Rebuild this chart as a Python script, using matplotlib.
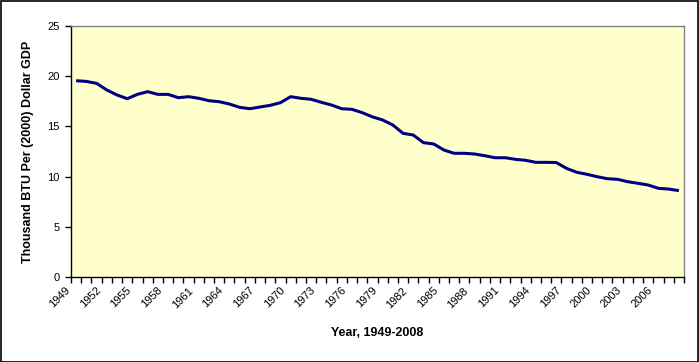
import numpy as np
import matplotlib.pyplot as plt
from matplotlib.patches import Rectangle
from matplotlib.ticker import FixedLocator
import matplotlib.transforms as mtransforms

plt.rcParams["font.family"] = ["Liberation Sans", "DejaVu Sans"]

years = list(range(1949, 2009))
btu_per_gdp = [
    19.55, 19.48, 19.29, 18.63, 18.13, 17.76, 18.19, 18.46, 18.19, 18.19,
    17.86, 17.96, 17.80, 17.56, 17.46, 17.23, 16.90, 16.76, 16.93, 17.10,
    17.36, 17.96, 17.80, 17.70, 17.40, 17.13, 16.76, 16.70, 16.37, 15.95,
    15.64, 15.14, 14.31, 14.14, 13.38, 13.25, 12.65, 12.32, 12.32, 12.25,
    12.08, 11.88, 11.88, 11.72, 11.62, 11.42, 11.42, 11.40, 10.82, 10.43,
    10.23, 9.99, 9.79, 9.73, 9.49, 9.33, 9.16, 8.83, 8.76, 8.60,
]
label_years = years[::3]

W, H = 699, 362
fig = plt.figure(figsize=(W / 100, H / 100), dpi=100)
fig.patch.set_facecolor("white")
ax = fig.add_axes([71 / W, (H - 277) / H, 613 / W, 251 / H])
ax.set_facecolor("#FFFFCC")

x = np.arange(len(years))
ax.plot(x, btu_per_gdp, color="#000080", lw=2.2, solid_capstyle="butt")

ax.set_xlim(-0.5, len(years) - 0.5)
ax.set_ylim(0, 25)
ax.set_yticks(np.arange(0, 26, 5))

label_pos = [years.index(y) for y in label_years]
ax.set_xticks(label_pos)
ax.set_xticklabels([str(y) for y in label_years], rotation=45, ha="right", va="top")
ax.xaxis.set_minor_locator(FixedLocator(np.arange(-0.5, len(years), 1.0)))
ax.tick_params(axis="x", which="major", length=0, pad=6, labelsize=8)
ax.tick_params(axis="x", which="minor", length=4, width=1, direction="out", color="black")
ax.tick_params(axis="y", length=4, width=1, direction="out", pad=4, labelsize=8)

offset = mtransforms.ScaledTranslation(-4 / 100, 0, fig.dpi_scale_trans)
for lbl in ax.get_xticklabels():
    lbl.set_transform(lbl.get_transform() + offset)

for side in ["left", "bottom"]:
    ax.spines[side].set_color("black")
    ax.spines[side].set_linewidth(1)
for side in ["top", "right"]:
    ax.spines[side].set_color("#808080")
    ax.spines[side].set_linewidth(1)

ax.set_ylabel("Thousand BTU Per (2000) Dollar GDP", fontsize=9, fontweight="bold", labelpad=10)
fig.text(377 / W, 1 - 333 / H, "Year, 1949-2008", fontsize=9, fontweight="bold",
         ha="center", va="center")

fig.patches.append(Rectangle((0.5 / W, 0.5 / H), (W - 1.5) / W, (H - 1.5) / H,
                             transform=fig.transFigure, fill=False,
                             edgecolor="black", lw=1.2))

fig.savefig("out.png", dpi=100)
